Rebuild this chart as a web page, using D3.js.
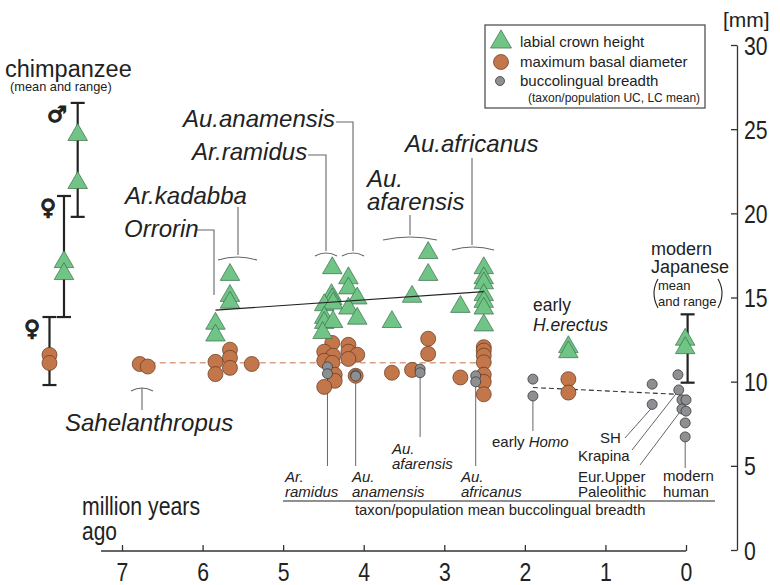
<!DOCTYPE html>
<html><head><meta charset="utf-8">
<script src="https://cdn.jsdelivr.net/npm/d3@7/dist/d3.min.js"></script>
<style>
body{margin:0;background:#fff}
svg{display:block}
text{font-family:"Liberation Sans",Arial,sans-serif;fill:#222}
</style>
</head><body>
<svg id="c" width="780" height="585"></svg>
<script>
// ---------- DATA ----------
const xTickValues = [7, 6, 5, 4, 3, 2, 1, 0];
const yTickValues = [0, 5, 10, 15, 20, 25, 30];

// labial crown height  [age (Ma), mm]   (chimpanzee plotted left of 7 Ma)
const crownHeight = [
  [7.55, 24.66], [7.55, 21.81],                       // chimpanzee male
  [7.72, 17.11], [7.72, 16.40],                       // chimpanzee female
  [5.66, 16.35], [5.66, 15.10], [5.66, 14.70], [5.84, 13.45], [5.84, 12.75], // Orrorin / Ar.kadabba
  [4.39, 16.75], [4.40, 15.15], [4.39, 14.90], [4.49, 14.55], [4.38, 14.65],
  [4.49, 13.80], [4.49, 13.50], [4.38, 13.55], [4.51, 12.90],                // Ar.ramidus
  [4.19, 16.15], [4.19, 15.55], [4.08, 14.95], [4.19, 14.35], [4.08, 13.75], // Au.anamensis
  [3.20, 17.65], [3.20, 16.35], [3.40, 15.05], [3.65, 13.55],                // Au.afarensis
  [2.51, 16.75], [2.51, 16.15], [2.51, 15.85], [2.51, 15.15], [2.51, 14.75],
  [2.51, 14.35], [2.51, 13.35], [2.80, 14.45],                               // Au.africanus
  [1.46, 12.06], [1.46, 11.76],                                              // early H.erectus
  [0.01, 12.50], [0.01, 12.00]                                               // modern Japanese
];
// maximum basal diameter [age, mm]
const basalDiameter = [
  [7.90, 11.59], [7.90, 11.11],                                              // chimpanzee female
  [6.78, 11.05], [6.68, 10.90],                                              // Sahelanthropus
  [5.66, 11.90], [5.66, 11.42], [5.84, 11.18], [5.66, 10.82], [5.84, 10.45], [5.39, 11.05],
  [4.39, 12.30], [4.49, 11.78], [4.38, 11.54], [4.49, 11.24], [4.39, 11.12],
  [4.36, 10.41], [4.36, 10.05], [4.49, 9.69],                                // Ar.ramidus
  [4.19, 12.19], [4.19, 11.78], [4.08, 11.60], [4.19, 11.35], [4.10, 10.35], // Au.anamensis
  [3.20, 12.55], [3.20, 11.65], [3.65, 10.53], [3.40, 10.70],                // Au.afarensis
  [2.51, 12.05], [2.51, 11.85], [2.51, 11.55], [2.51, 11.15], [2.51, 10.41],
  [2.51, 9.99], [2.51, 9.25], [2.80, 10.25],                                 // Au.africanus
  [1.46, 10.15], [1.46, 9.35]                                                // early H.erectus
];
// buccolingual breadth, taxon/population UC, LC mean [age, mm]
const buccolingual = [
  [4.45, 10.88], [4.45, 10.47],       // Ar.ramidus
  [4.10, 10.40], [4.10, 10.33],       // Au.anamensis
  [3.30, 10.75], [3.30, 10.53],       // Au.afarensis
  [2.61, 10.35], [2.61, 9.99],        // Au.africanus
  [1.90, 10.15], [1.90, 9.15],        // early Homo
  [0.42, 9.85], [0.42, 8.65],         // SH
  [0.10, 10.41], [0.09, 9.51],        // Krapina / others
  [0.05, 8.92], [0.00, 8.92], [0.05, 8.38], [0.00, 8.25], [0.01, 7.55], [0.01, 6.72] // modern
];
// mean and range bars [age, min, max]
const rangeBars = [
  [7.55, 19.79, 26.56],   // chimpanzee male crown height
  [7.72, 13.84, 21.03],   // chimpanzee female crown height
  [7.90, 9.80, 13.84],    // chimpanzee female basal diameter
  [-0.02, 9.94, 14.0]     // modern Japanese crown height
];
// trend lines [age, mm]
const crownMeanLine = [[5.84, 14.25], [2.51, 15.35]];
const basalMeanLine = [[6.78, 11.12], [2.51, 11.12]];
const buccoMeanLine = [[1.90, 9.65], [0.10, 9.25]];

// ---------- CHART ----------
const svg = d3.select("#c");
const x = d3.scaleLinear().domain([7, 0]).range([122, 686]);
const y = d3.scaleLinear().domain([0, 30]).range([550, 45]);

const GREEN = "#6fc486", GREEN_S = "#3b6e4b";
const ORANGE = "#c4764b", ORANGE_S = "#5f3620";
const GRAY = "#8d8f93", GRAY_S = "#3a3a3a";
const LEAD = "#666";

// condensed look (Arial Narrow-like) via textLength
function narrow(sel, perChar) {
  sel.each(function () {
    const n = this.textContent.length;
    d3.select(this).attr("textLength", perChar * n).attr("lengthAdjust", "spacingAndGlyphs");
  });
}

// axes
const yAxis = d3.axisRight(y).tickValues(yTickValues).tickSizeInner(-6).tickSizeOuter(0).tickPadding(7).tickFormat(d3.format("d"));
const gy = svg.append("g").attr("transform", "translate(737,0)").call(yAxis);
gy.select(".domain").attr("stroke", "#333").attr("stroke-width", 1.3);
gy.selectAll(".tick line").attr("stroke", "#333").attr("stroke-width", 1.3);
gy.selectAll(".tick text").style("font-size", "26px").style("font-family", "Liberation Sans, Arial, sans-serif").attr("fill", "#222").attr("dy", "0.35em").call(narrow, 11.8);

const xAxis = d3.axisBottom(x).tickValues(xTickValues).tickSizeInner(-6).tickSizeOuter(0).tickPadding(10).tickFormat(d3.format("d"));
const gx = svg.append("g").attr("transform", "translate(0,551)").call(xAxis);
gx.select(".domain").remove();
gx.append("line").attr("x1", x(7.26)).attr("x2", x(0)).attr("y1", 0).attr("y2", 0).attr("stroke", "#333").attr("stroke-width", 1.3);
gx.selectAll(".tick line").attr("stroke", "#333").attr("stroke-width", 1.3);
gx.selectAll(".tick text").style("font-size", "26px").style("font-family", "Liberation Sans, Arial, sans-serif").attr("fill", "#222").attr("dy", "0.75em").call(narrow, 11.8);

svg.append("text").attr("x", 82).attr("y", 515).style("font-size", "25px").attr("textLength", 118).attr("lengthAdjust", "spacingAndGlyphs").text("million years");
svg.append("text").attr("x", 82).attr("y", 540).style("font-size", "25px").attr("textLength", 35).attr("lengthAdjust", "spacingAndGlyphs").text("ago");
svg.append("text").attr("x", 723).attr("y", 27).style("font-size", "21px").text("[mm]");

// trend lines
const line = d3.line().x(d => x(d[0])).y(d => y(d[1]));
svg.append("path").attr("d", line(basalMeanLine)).attr("fill", "none").attr("stroke", "#d9a083").attr("stroke-width", 1.6).attr("stroke-dasharray", "6,4");
svg.append("path").attr("d", line(buccoMeanLine)).attr("fill", "none").attr("stroke", "#333").attr("stroke-width", 1.1).attr("stroke-dasharray", "5,3");

// range bars
const bars = svg.append("g").attr("stroke", "#222").attr("stroke-width", 2.2);
rangeBars.forEach(b => {
  const cx = x(b[0]);
  bars.append("line").attr("x1", cx).attr("x2", cx).attr("y1", y(b[1])).attr("y2", y(b[2]));
  bars.append("line").attr("x1", cx - 7).attr("x2", cx + 7).attr("y1", y(b[1])).attr("y2", y(b[1]));
  bars.append("line").attr("x1", cx - 7).attr("x2", cx + 7).attr("y1", y(b[2])).attr("y2", y(b[2]));
});

// leader lines (bottom)
const lead = svg.append("g").attr("stroke", LEAD).attr("stroke-width", 1).attr("fill", "none");
[[4.45, 10.47, 466], [4.10, 10.33, 466], [3.30, 10.53, 437], [2.61, 9.99, 466], [1.90, 9.15, 431], [0.01, 6.72, 468]]
  .forEach(d => lead.append("line").attr("x1", x(d[0])).attr("x2", x(d[0])).attr("y1", y(d[1])).attr("y2", d[2]));
lead.append("line").attr("x1", 625).attr("y1", 438).attr("x2", x(0.42)).attr("y2", y(8.65) + 3);
lead.append("line").attr("x1", 632).attr("y1", 450).attr("x2", x(0.09) - 2).attr("y2", y(9.51) + 3);
lead.append("line").attr("x1", 640).attr("y1", 465).attr("x2", x(0.05) - 2).attr("y2", y(8.38) + 3);
svg.append("line").attr("x1", 283).attr("x2", 715).attr("y1", 501).attr("y2", 501).attr("stroke", "#222").attr("stroke-width", 1.2);

// orange circles
svg.append("g").selectAll("circle").data(basalDiameter).join("circle")
  .attr("cx", d => x(d[0])).attr("cy", d => y(d[1])).attr("r", 7.5)
  .attr("fill", ORANGE).attr("stroke", ORANGE_S).attr("stroke-width", 0.7);
// gray circles
svg.append("g").selectAll("circle").data(buccolingual).join("circle")
  .attr("cx", d => x(d[0])).attr("cy", d => y(d[1])).attr("r", 5)
  .attr("fill", GRAY).attr("stroke", GRAY_S).attr("stroke-width", 0.8);
// triangles
const tri = d3.symbol().type(d3.symbolTriangle).size(165);
svg.append("g").selectAll("path").data(crownHeight).join("path")
  .attr("d", tri).attr("transform", d => `translate(${x(d[0])},${y(d[1])})`)
  .attr("fill", GREEN).attr("stroke", GREEN_S).attr("stroke-width", 0.7);
// crown mean line
svg.append("path").attr("d", line(crownMeanLine)).attr("fill", "none").attr("stroke", "#222").attr("stroke-width", 1.1);

// top annotations
const ann = svg.append("g").attr("stroke", LEAD).attr("stroke-width", 1.1).attr("fill", "none");
function cap(x1, x2, yy) { ann.append("path").attr("d", `M${x1},${yy + 3} Q${(x1 + x2) / 2},${yy - 3} ${x2},${yy + 3}`); }
ann.append("path").attr("d", "M336,122 H353 V251"); cap(342, 364, 253);
ann.append("path").attr("d", "M308,155 H326 V251"); cap(315, 337, 253);
ann.append("path").attr("d", "M238,207 V255"); cap(218, 257, 257);
ann.append("path").attr("d", "M197,230 H214 V295");
ann.append("path").attr("d", "M410,215 V235"); cap(383, 437, 237);
ann.append("path").attr("d", "M472,158 V245"); cap(452, 494, 247);
ann.append("path").attr("d", "M142,388 V410"); cap(131, 153, 388);

const it = (t, xx, yy, fs) => svg.append("text").attr("x", xx).attr("y", yy).style("font-size", fs + "px").style("font-style", "italic").text(t);
const tx = (t, xx, yy, fs) => svg.append("text").attr("x", xx).attr("y", yy).style("font-size", fs + "px").text(t);
it("Au.anamensis", 183, 127, 24);
it("Ar.ramidus", 192, 160, 24);
it("Ar.kadabba", 125, 204, 24);
it("Orrorin", 124, 237, 24);
it("Au.", 367, 187, 24);
it("afarensis", 367, 210, 24);
it("Au.africanus", 405, 152, 24);
it("Sahelanthropus", 65, 431, 24);

tx("chimpanzee", 5, 77, 23.5);
tx("(mean and range)", 10, 91, 12.8);
const sym = (t, xx, yy) => svg.append("text").attr("x", xx).attr("y", yy)
  .style("font-family", "DejaVu Sans").style("font-weight", "bold").style("font-size", "22px")
  .attr("stroke", "#222").attr("stroke-width", 1.2).text(t);
sym("♂", 47, 122);
sym("♀", 40, 215);
sym("♀", 24, 336);

tx("early", 533, 311, 17.5);
it("H.erectus", 533, 331, 17.5);
tx("modern", 651, 255, 18);
tx("Japanese", 651, 273, 18);
tx("mean", 658, 290, 13);
tx("and range", 658, 306, 13);
ann.append("path").attr("d", "M658,279 Q650,293 658,308").attr("stroke", "#222");
ann.append("path").attr("d", "M718,279 Q726,293 718,308").attr("stroke", "#222");

// bottom labels
it("Ar.", 285, 482, 15); it("ramidus", 285, 497, 15);
it("Au.", 352, 482, 15); it("anamensis", 352, 497, 15);
it("Au.", 392, 454, 15); it("afarensis", 392, 469, 15);
it("Au.", 461, 482, 15); it("africanus", 461, 497, 15);
const eh = svg.append("text").attr("x", 492).attr("y", 447).style("font-size", "15px");
eh.append("tspan").text("early ");
eh.append("tspan").style("font-style", "italic").text("Homo");
tx("SH", 600, 443, 15);
tx("Krapina", 578, 461, 15);
tx("Eur.Upper", 578, 482, 15);
tx("Paleolithic", 578, 497, 15);
tx("modern", 663, 481, 15);
tx("human", 663, 497, 15);
tx("taxon/population mean buccolingual breadth", 355, 515, 14.8);

// legend
const lg = svg.append("g");
lg.append("rect").attr("x", 485).attr("y", 25).attr("width", 220).attr("height", 83).attr("fill", "#fff").attr("stroke", "#444").attr("stroke-width", 1.2);
lg.append("path").attr("d", d3.symbol().type(d3.symbolTriangle).size(190)()).attr("transform", "translate(501,42)").attr("fill", GREEN).attr("stroke", GREEN_S).attr("stroke-width", 0.7);
lg.append("circle").attr("cx", 501).attr("cy", 62).attr("r", 7.5).attr("fill", ORANGE).attr("stroke", ORANGE_S).attr("stroke-width", 0.7);
lg.append("circle").attr("cx", 500).attr("cy", 81).attr("r", 4.5).attr("fill", GRAY).attr("stroke", GRAY_S).attr("stroke-width", 0.8);
tx("labial crown height", 520, 47, 15);
tx("maximum basal diameter", 520, 67, 15);
tx("buccolingual breadth", 520, 86, 15);
tx("(taxon/population UC, LC mean)", 528, 102, 12);
</script>
</body></html>
